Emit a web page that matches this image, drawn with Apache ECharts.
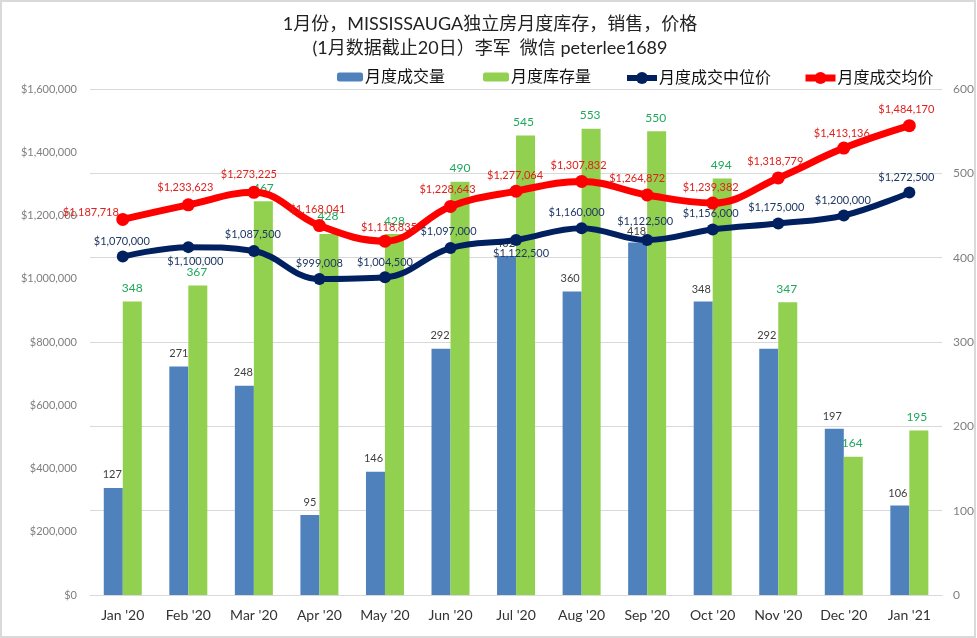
<!DOCTYPE html>
<html>
<head>
<meta charset="utf-8">
<style>
  html, body { margin: 0; padding: 0; background: #fff; }
  #app { width: 977px; height: 638px; }
</style>
<script src="https://cdn.jsdelivr.net/npm/echarts@6/dist/echarts.min.js"></script>
</head>
<body>
<div id="app"></div>
<script>
const months = ["Jan '20", "Feb '20", "Mar '20", "Apr '20", "May '20", "Jun '20", "Jul '20", "Aug '20", "Sep '20", "Oct '20", "Nov '20", "Dec '20", "Jan '21"]
const sold = [127, 271, 248, 95, 146, 292, 402, 360, 418, 348, 292, 197, 106]
const inventory = [348, 367, 467, 428, 428, 490, 545, 553, 550, 494, 347, 164, 195]
const median = [1070000, 1100000, 1087500, 999008, 1004500, 1097000, 1122500, 1160000, 1122500, 1156000, 1175000, 1200000, 1272500]
const average = [1187718, 1233623, 1273225, 1168041, 1118835, 1228643, 1277064, 1307832, 1264872, 1239382, 1318779, 1413136, 1484170]

// hand-moved data labels, [dx, dy] from the default 'top' spot
const soldOffsets = [[-1, -3], [0, -3], [-1, -3], [0, -2], [-2, -3], [-1, -3], [-1, -2], [-2, -2], [-1, -1], [-2, -2], [-2, -3], [-2, -2], [-2, -2]]
const inventoryOffsets = [[0, -2], [-1, -2], [0, -2], [-1, -7], [0, -2], [0, -3], [-2, -2], [-1, -3], [-1, -2], [-1, -2], [-1, -2], [-1, -3], [-2, -2]]
const medianOffsets = [[-1, 1], [7, 31], [-1, 0], [0, 1], [0, 2], [-2, 0], [5, 30], [-5, 1], [-2, -2], [-2, 1], [-2, 1], [-1, 1], [-3, 1]]
const averageOffsets = [[-32, 10], [-3, 0], [-5, -1], [-2, 1], [4, 3], [-3, 0], [-1, 1], [-3, 1], [-10, 0], [-2, 1], [-3, 1], [-2, 2], [-3, 1]]

const font = 'Lato, "Noto Sans CJK SC", sans-serif'
const usd = v => '$' + v.toLocaleString('en-US')

function withOffsets(values, offsets) {
  return values.map((v, i) => ({ value: v, label: { offset: offsets[i] } }))
}

const legendBase = {
  top: 69,
  padding: 0,
  itemHeight: 9,
  textStyle: { fontFamily: font, fontSize: 16, color: '#111', padding: [0, 0, 0, -3] },
}
const lineLegend = { ...legendBase, top: 70, itemWidth: 30, itemHeight: 15 }

const echart = echarts.init(document.getElementById('app'))

echart.setOption({
  animation: false,
  backgroundColor: '#fff',
  textStyle: { fontFamily: font },
  title: {
    text: '1月份，MISSISSAUGA独立房月度库存，销售，价格\n(1月数据截止20日）李军  微信 peterlee1689',
    left: 485,
    top: 7,
    textAlign: 'center',
    textStyle: { fontFamily: font, fontSize: 18, fontWeight: 'normal', color: '#222', lineHeight: 24 },
  },
  legend: [
    { ...legendBase, left: 337, itemWidth: 26, data: ['月度成交量'] },
    { ...legendBase, left: 483, itemWidth: 26, data: ['月度库存量'] },
    { ...lineLegend, left: 624, lineStyle: { width: 6 }, data: ['月度成交中位价'] },
    { ...lineLegend, left: 802, lineStyle: { width: 7 }, data: ['月度成交均价'] },
  ],
  grid: { left: 90, right: 33, top: 89, bottom: 43 },
  xAxis: {
    type: 'category',
    data: months,
    axisTick: { show: false },
    axisLine: { lineStyle: { color: '#d9d9d9' } },
    axisLabel: { fontFamily: font, fontSize: 14, color: '#333', margin: 13 },
  },
  yAxis: [
    {
      type: 'value',
      min: 0,
      max: 1600000,
      interval: 200000,
      splitLine: { show: false },
      axisLine: { show: false },
      axisTick: { show: false },
      axisLabel: { fontFamily: font, fontSize: 11, color: '#7f7f7f', margin: 13, formatter: usd },
    },
    {
      type: 'value',
      min: 0,
      max: 600,
      interval: 100,
      splitLine: { lineStyle: { color: '#d9d9d9' } },
      axisLine: { show: false },
      axisTick: { show: false },
      axisLabel: { fontFamily: font, fontSize: 12, color: '#7f7f7f', margin: 11 },
    },
  ],
  series: [
    {
      name: '月度成交量',
      type: 'bar',
      yAxisIndex: 1,
      barWidth: 19,
      barGap: 0,
      itemStyle: { color: '#4f81bd' },
      label: { show: true, position: 'top', fontSize: 11, color: '#404040' },
      data: withOffsets(sold, soldOffsets),
    },
    {
      name: '月度库存量',
      type: 'bar',
      yAxisIndex: 1,
      barWidth: 19,
      itemStyle: { color: '#92d050' },
      label: { show: true, position: 'top', fontSize: 12, color: '#1fa85c' },
      data: withOffsets(inventory, inventoryOffsets),
    },
    {
      name: '月度成交中位价',
      type: 'line',
      smooth: 0.4,
      symbol: 'circle',
      symbolSize: 12,
      lineStyle: { color: '#002060', width: 6 },
      itemStyle: { color: '#002060' },
      label: { show: true, position: 'top', fontSize: 11, color: '#1f3864', formatter: p => usd(p.value) },
      data: withOffsets(median, medianOffsets),
    },
    {
      name: '月度成交均价',
      type: 'line',
      smooth: 0.4,
      symbol: 'circle',
      symbolSize: 13,
      lineStyle: { color: '#ff0000', width: 7 },
      itemStyle: { color: '#ff0000' },
      label: { show: true, position: 'top', fontSize: 11, color: '#e0201c', formatter: p => usd(p.value) },
      data: withOffsets(average, averageOffsets),
    },
  ],
  graphic: [
    {
      type: 'rect',
      silent: true,
      shape: { x: 1, y: 1, width: 974, height: 636 },
      style: { fill: 'none', stroke: '#d9d9d9', lineWidth: 2 },
    },
  ],
})
</script>
</body>
</html>
